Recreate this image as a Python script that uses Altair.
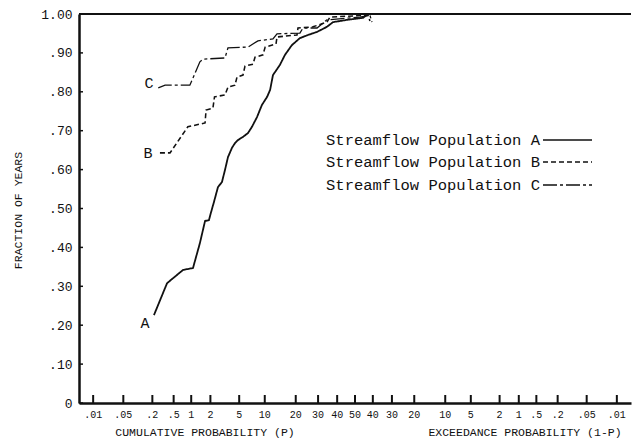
import altair as alt
import pandas as pd

FONT = "Liberation Mono"
INK = "#111111"

# Curve A: cumulative probability P (%) and fraction of years
a_p = [0.215, 0.38, 0.49, 0.73, 1.07, 1.38, 1.66, 1.90, 2.05, 2.26, 2.58, 2.94, 3.24, 3.56, 4.03, 4.41,
       4.83, 5.58, 6.43, 7.17, 8.2, 9.3, 10.6, 11.4, 12.2, 14.3, 16.0, 18.5, 21.7, 25.2, 29.5, 34.5,
       37.7, 45.5, 54.5, 57.3]
a_f = [0.226, 0.308, 0.321, 0.342, 0.347, 0.411, 0.468, 0.470, 0.491, 0.517, 0.555, 0.568, 0.599, 0.632,
       0.656, 0.668, 0.676, 0.684, 0.694, 0.710, 0.735, 0.766, 0.787, 0.805, 0.843, 0.869, 0.895, 0.920,
       0.938, 0.946, 0.954, 0.967, 0.979, 0.985, 0.990, 1.00]

# Curve B
b_p = [0.28, 0.43, 0.88, 1.66, 1.72, 2.18, 2.30, 3.24, 3.56, 4.41, 4.69, 5.58, 5.91, 7.37, 7.78, 9.56,
       10.1, 13.1, 13.4, 20.5, 20.9, 27.5, 34.5, 36.1, 57.3, 58.4]
b_f = [0.643, 0.643, 0.710, 0.720, 0.753, 0.758, 0.787, 0.792, 0.812, 0.817, 0.838, 0.843, 0.866, 0.871,
       0.889, 0.895, 0.915, 0.923, 0.941, 0.946, 0.964, 0.967, 0.979, 0.992, 0.997, 0.982]

# Curve C
c_p = [0.26, 0.35, 0.95, 1.38, 1.54, 3.24, 3.56, 6.43, 8.4, 12.2, 13.4, 21.7, 23.0, 29.5, 34.5, 52.8,
       58.4, 59.5]
c_f = [0.810, 0.817, 0.817, 0.877, 0.884, 0.887, 0.913, 0.915, 0.931, 0.936, 0.949, 0.951, 0.964, 0.964,
       0.985, 0.992, 0.997, 0.979]

series_names = ["A", "B", "C"]
legend_labels = ["Streamflow Population A", "Streamflow Population B", "Streamflow Population C"]

# Probability-axis ticks (cumulative %, shown as P on the left half and 1-P on the right half)
tick_p = [0.01, 0.05, 0.2, 0.5, 1, 2, 5, 10, 20, 30, 40, 50, 60, 70, 80, 90, 95, 98, 99, 99.5, 99.8,
          99.95, 99.99]
tick_lab = [".01", ".05", ".2", ".5", "1", "2", "5", "10", "20", "30", "40", "50", "40", "30", "20",
            "10", "5", "2", "1", ".5", ".2", ".05", ".01"]

y_ticks = [0, 0.1, 0.2, 0.3, 0.4, 0.5, 0.6, 0.7, 0.8, 0.9, 1.0]

rows = []
for name, ps, fs in zip(series_names, [a_p, b_p, c_p], [a_f, b_f, c_f]):
    for i, (p, f) in enumerate(zip(ps, fs)):
        rows.append({"series": name, "p": p, "f": f, "order": i})
lines_df = pd.DataFrame(rows)
ticks_df = pd.DataFrame({"p": tick_p, "label": tick_lab})
yt_df = pd.DataFrame({"f": y_ticks})

W, H = 552, 389
xscale = alt.Scale(domain=[-3.92, 3.92], nice=False, zero=False)
yscale = alt.Scale(domain=[0, 1], nice=False)

x_axis = alt.Axis(domain=True, domainColor=INK, domainWidth=2.5, ticks=False,
                  labels=False, grid=False, title=None)
y_axis = alt.Axis(values=y_ticks, domain=True, domainColor=INK, domainWidth=2.5,
                  ticks=False, grid=False, labelOverlap=False,
                  labelExpr="datum.value == 0 ? '0' : datum.value == 1 ? '1.00' : replace(format(datum.value, '.2f'), '0.', '.')",
                  labelFont=FONT, labelFontSize=13, labelColor=INK, labelPadding=7,
                  title="FRACTION OF YEARS", titleFont=FONT, titleFontSize=11.5,
                  titleFontWeight="normal", titleColor=INK, titleX=-61, titleY=196,
                  titleAngle=270, titleAlign="center", titleBaseline="middle")

dash_scale = alt.Scale(domain=series_names, range=[[1, 0], [5, 3], [14, 3, 3, 3]])
width_scale = alt.Scale(domain=series_names, range=[1.8, 1.3, 1.3])

lines = alt.Chart(lines_df).transform_calculate(
    z="quantileNormal(datum.p / 100)"
).mark_line(color=INK, clip=False, strokeJoin="miter").encode(
    x=alt.X("z:Q", scale=xscale, axis=x_axis),
    y=alt.Y("f:Q", scale=yscale, axis=y_axis),
    strokeDash=alt.StrokeDash("series:N", scale=dash_scale, legend=None),
    strokeWidth=alt.StrokeWidth("series:N", scale=width_scale, legend=None),
    detail="series:N",
    order="order:Q",
)

xticks = alt.Chart(ticks_df).transform_calculate(
    z="quantileNormal(datum.p / 100)"
).mark_rule(color=INK, strokeWidth=2).encode(
    x=alt.X("z:Q", scale=xscale, axis=x_axis), y=alt.value(H), y2=alt.value(H - 8)
)

xlabels = alt.Chart(ticks_df).transform_calculate(
    z="quantileNormal(datum.p / 100)"
).mark_text(font=FONT, fontSize=10, color=INK, baseline="middle").encode(
    x=alt.X("z:Q", scale=xscale, axis=x_axis), y=alt.value(H + 12), text="label:N"
)

yticks = alt.Chart(yt_df).mark_rule(color=INK, strokeWidth=1.5).encode(
    y=alt.Y("f:Q", scale=yscale, axis=y_axis), x=alt.value(0), x2=alt.value(4)
)

top_line = alt.Chart(pd.DataFrame({"k": [0]})).mark_rule(color=INK, strokeWidth=2).encode(
    x=alt.value(0), x2=alt.value(W), y=alt.value(0)
)

layers = [lines, xticks, xlabels, yticks, top_line]

titles = [("CUMULATIVE PROBABILITY (P)", 126), ("EXCEEDANCE PROBABILITY (1-P)", 446)]
for txt, cx in titles:
    layers.append(alt.Chart(pd.DataFrame({"t": [txt]})).mark_text(
        font=FONT, fontSize=11.5, color=INK, align="center", baseline="middle"
    ).encode(text="t:N", x=alt.value(cx), y=alt.value(H + 30)))

# curve labels
label_pos = [(66, 309), (69, 139), (70, 69)]
for name, (lx, ly) in zip(series_names, label_pos):
    layers.append(alt.Chart(pd.DataFrame({"t": [name]})).mark_text(
        font=FONT, fontSize=15, color=INK, align="center", baseline="middle"
    ).encode(text="t:N", x=alt.value(lx), y=alt.value(ly)))

# legend
leg_y = [126, 148, 171]
dashes = [[1, 0], [5, 3], [14, 3, 3, 3]]
for lab, ly, d in zip(legend_labels, leg_y, dashes):
    layers.append(alt.Chart(pd.DataFrame({"t": [lab]})).mark_text(
        font=FONT, fontSize=15.5, color=INK, align="right", baseline="middle"
    ).encode(text="t:N", x=alt.value(461), y=alt.value(ly)))
    layers.append(alt.Chart(pd.DataFrame({"k": [0]})).mark_rule(
        color=INK, strokeWidth=1.3, strokeDash=d
    ).encode(x=alt.value(464), x2=alt.value(513), y=alt.value(ly)))

chart = alt.layer(*layers).properties(
    width=W, height=H,
    padding={"left": 79, "top": 14, "right": 2, "bottom": 42},
    autosize=alt.AutoSizeParams(type="none"),
    background="white",
).configure_view(stroke=None)

chart.save("out.html", embed_options={"renderer": "svg", "actions": False})
